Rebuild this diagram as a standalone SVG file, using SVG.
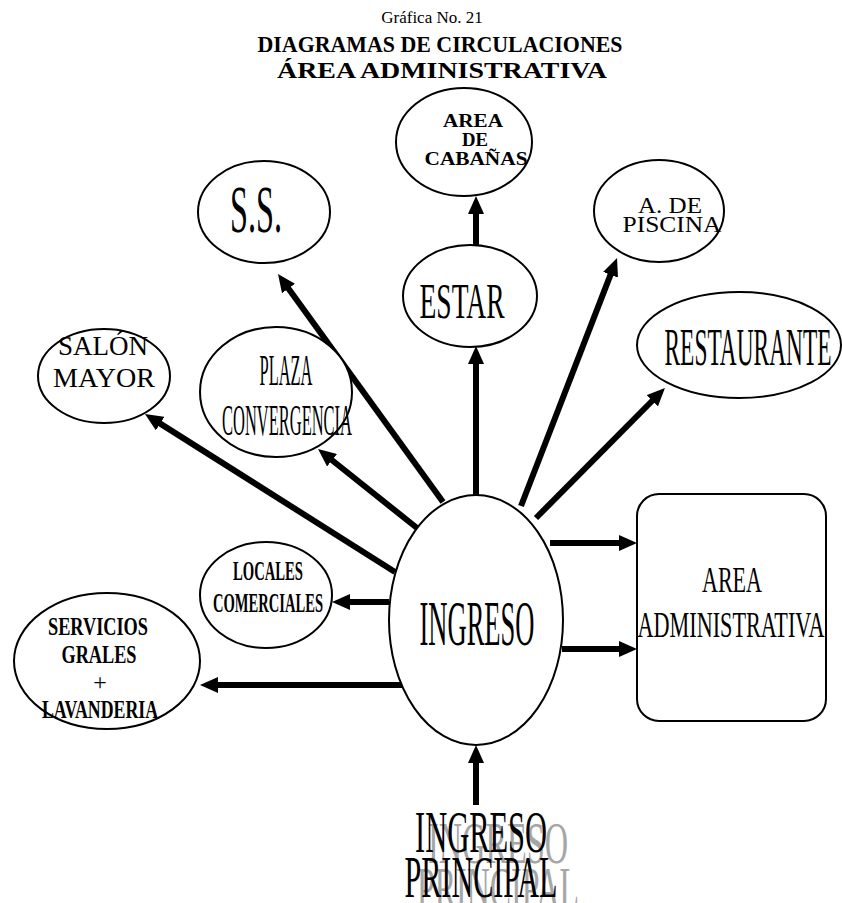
<svg xmlns="http://www.w3.org/2000/svg" width="842" height="903" viewBox="0 0 842 903">
<style>
text{font-family:"Liberation Serif","Times New Roman",serif;fill:#000;text-anchor:middle}
.b{font-weight:bold}
.sh{fill:#a6a6a6}
.node{fill:#fff;stroke:#000;stroke-width:2}
.arr{stroke:#000;stroke-width:6;fill:none;marker-end:url(#ah)}
</style>
<defs>
<marker id="ah" viewBox="0 0 18 16" refX="6" refY="8" markerWidth="18" markerHeight="16" markerUnits="userSpaceOnUse" orient="auto">
<path d="M0,0 L18,8 L0,16 Z" fill="#000"/>
</marker>
</defs>
<rect width="842" height="903" fill="#fff"/>
<g id="title">
<text x="432" y="23" font-size="17">Gráfica No. 21</text>
<text class="b" x="440" y="52" font-size="23" textLength="365" lengthAdjust="spacingAndGlyphs">DIAGRAMAS DE CIRCULACIONES</text>
<text class="b" x="442" y="78" font-size="24" textLength="330" lengthAdjust="spacingAndGlyphs">ÁREA ADMINISTRATIVA</text>
</g>
<g id="connectors">
<line class="arr" x1="395" y1="572" x2="155.1" y2="420.4"/>
<line class="arr" x1="417" y1="528" x2="327.4" y2="456.5"/>
<line class="arr" x1="443" y1="502" x2="285" y2="283.7"/>
<line class="arr" x1="476" y1="495" x2="476" y2="358"/>
<line class="arr" x1="476" y1="245" x2="476" y2="208"/>
<line class="arr" x1="521" y1="506" x2="612.7" y2="269.2"/>
<line class="arr" x1="536" y1="518" x2="656.5" y2="396.5"/>
<line class="arr" x1="550" y1="543" x2="625" y2="543"/>
<line class="arr" x1="562" y1="649" x2="625" y2="649"/>
<line class="arr" x1="389" y1="602" x2="344" y2="602"/>
<line class="arr" x1="402" y1="685" x2="212" y2="685"/>
<line class="arr" x1="476" y1="805" x2="476" y2="757"/>
</g>
<g id="ss">
<ellipse class="node" cx="264" cy="212" rx="66" ry="51"/>
<text x="256" y="232" font-size="68" textLength="52" lengthAdjust="spacingAndGlyphs">S.S.</text>
</g>
<g id="cabanas">
<ellipse class="node" cx="464" cy="142" rx="68" ry="54"/>
<text class="b" x="473" y="127" font-size="18" textLength="60" lengthAdjust="spacingAndGlyphs">AREA</text>
<text class="b" x="475" y="146" font-size="18" textLength="26" lengthAdjust="spacingAndGlyphs">DE</text>
<text class="b" x="476" y="165" font-size="18" textLength="103" lengthAdjust="spacingAndGlyphs">CABAÑAS</text>
</g>
<g id="piscina">
<ellipse class="node" cx="659" cy="211" rx="65" ry="51"/>
<text x="670" y="213" font-size="23" textLength="64" lengthAdjust="spacingAndGlyphs">A. DE</text>
<text x="672" y="232" font-size="23" textLength="99" lengthAdjust="spacingAndGlyphs">PISCINA</text>
</g>
<g id="estar">
<ellipse class="node" cx="470" cy="296" rx="67" ry="51"/>
<text x="462" y="318" font-size="50" textLength="85" lengthAdjust="spacingAndGlyphs">ESTAR</text>
</g>
<g id="restaurante">
<ellipse class="node" cx="739" cy="345" rx="102" ry="53"/>
<text x="748" y="365" font-size="52" textLength="167" lengthAdjust="spacingAndGlyphs">RESTAURANTE</text>
</g>
<g id="salon">
<ellipse class="node" cx="104" cy="376" rx="66" ry="47"/>
<text x="103" y="355" font-size="27" textLength="90" lengthAdjust="spacingAndGlyphs">SALÓN</text>
<text x="104" y="387" font-size="27" textLength="102" lengthAdjust="spacingAndGlyphs">MAYOR</text>
</g>
<g id="plaza">
<ellipse class="node" cx="276" cy="392" rx="76" ry="65"/>
<text x="286" y="385" font-size="45" textLength="53" lengthAdjust="spacingAndGlyphs">PLAZA</text>
<text x="287" y="435" font-size="45" textLength="130" lengthAdjust="spacingAndGlyphs">CONVERGENCIA</text>
</g>
<g id="locales">
<ellipse class="node" cx="266" cy="595" rx="66" ry="53"/>
<text class="b" x="268" y="580" font-size="27" textLength="70" lengthAdjust="spacingAndGlyphs">LOCALES</text>
<text class="b" x="268" y="612" font-size="27" textLength="110" lengthAdjust="spacingAndGlyphs">COMERCIALES</text>
</g>
<g id="servicios">
<ellipse class="node" cx="107" cy="661" rx="93" ry="68"/>
<text class="b" x="98" y="635" font-size="26" textLength="100" lengthAdjust="spacingAndGlyphs">SERVICIOS</text>
<text class="b" x="99" y="663" font-size="26" textLength="75" lengthAdjust="spacingAndGlyphs">GRALES</text>
<text x="100" y="690" font-size="24">+</text>
<text class="b" x="100" y="718" font-size="26" textLength="116" lengthAdjust="spacingAndGlyphs">LAVANDERIA</text>
</g>
<g id="ingreso">
<ellipse class="node" cx="476" cy="620" rx="87" ry="125"/>
<text x="477" y="645" font-size="63" textLength="115" lengthAdjust="spacingAndGlyphs">INGRESO</text>
</g>
<g id="admin">
<rect class="node" x="637" y="494" width="189" height="227" rx="22"/>
<text x="732" y="592" font-size="35" textLength="60" lengthAdjust="spacingAndGlyphs">AREA</text>
<text x="731" y="637" font-size="35" textLength="187" lengthAdjust="spacingAndGlyphs">ADMINISTRATIVA</text>
</g>
<g id="ingreso-principal">
<text class="sh" x="498" y="863" font-size="59" textLength="140" lengthAdjust="spacingAndGlyphs">INGRESO</text>
<text class="sh" x="498" y="908" font-size="59" textLength="162" lengthAdjust="spacingAndGlyphs">PRINCIPAL</text>
<text x="481" y="852" font-size="59" textLength="132" lengthAdjust="spacingAndGlyphs">INGRESO</text>
<text x="481" y="897" font-size="59" textLength="153" lengthAdjust="spacingAndGlyphs">PRINCIPAL</text>
</g>
</svg>
